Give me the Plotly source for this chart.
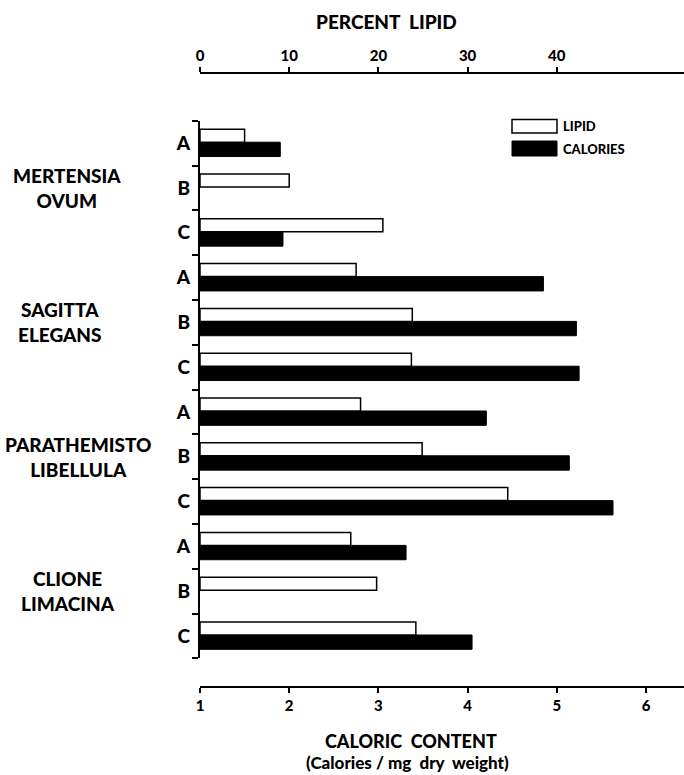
import plotly.graph_objects as go

species = ["MERTENSIA<br>OVUM", "SAGITTA<br>ELEGANS", "PARATHEMISTO<br>LIBELLULA", "CLIONE<br>LIMACINA"]
samples = ["A", "B", "C"]
row_labels = [s for _ in species for s in samples]
lipid_pct = [5.0, 10.0, 20.5, 17.5, 23.8, 23.7, 18.0, 24.9, 34.5, 16.9, 19.8, 24.2]
calories = [1.90, None, 1.93, 4.85, 5.22, 5.25, 4.21, 5.14, 5.63, 3.31, None, 4.05]
lipid_ticks = [0, 10, 20, 30, 40]
cal_ticks = [1, 2, 3, 4, 5, 6]

rows = list(range(len(row_labels)))
FONT = "Lato"
W, H = 684, 775
L, R, T, B = 200, 0, 73, 775 - 687
plot_h = H - T - B

def py(px):
    return (H - B - px) / plot_h

def px_x(px):
    return (px - L) / (W - L - R)

fig = go.Figure()
fig.add_trace(go.Bar(
    y=rows, x=lipid_pct, orientation="h", xaxis="x2", yaxis="y",
    offset=-0.31, width=0.29,
    marker=dict(color="white", line=dict(color="black", width=1.5)),
    name="LIPID", showlegend=False,
))
fig.add_trace(go.Bar(
    y=rows, x=calories, orientation="h", xaxis="x", yaxis="y",
    offset=-0.02, width=0.32,
    marker=dict(color="black", line=dict(color="black", width=1)),
    name="CALORIES", showlegend=False,
))
fig.add_trace(go.Scatter(x=[None], y=[None], xaxis="x", yaxis="y2", showlegend=False, hoverinfo="skip"))

ydom = [py(658.3), py(120.7)]
n = len(rows)
cal_range = [1, 1 + (W - L - R) / 89.2]
lip_range = [0, (W - L - R) / 8.92]
tickfont = dict(family=FONT, size=15, weight=900)
fig.update_layout(
    width=W, height=H,
    margin=dict(l=L, r=R, t=T, b=B),
    paper_bgcolor="white", plot_bgcolor="white",
    barmode="overlay",
    font=dict(family=FONT, color="black"),
    xaxis=dict(
        range=cal_range, anchor="free", position=0,
        tickvals=cal_ticks, ticks="outside", ticklen=5, tickwidth=1.5, tickcolor="black",
        showline=True, linecolor="black", linewidth=1.5,
        showgrid=False, zeroline=False, tickfont=tickfont,
    ),
    xaxis2=dict(
        range=lip_range, overlaying="x", side="top", anchor="free", position=1,
        tickvals=lipid_ticks, ticks="outside", ticklen=5, tickwidth=1.5, tickcolor="black",
        showline=True, linecolor="black", linewidth=1.5,
        showgrid=False, zeroline=False, tickfont=tickfont,
    ),
    yaxis=dict(
        domain=ydom, range=[n - 0.5, -0.5],
        tickvals=[i - 0.5 for i in range(n + 1)], ticktext=[""] * (n + 1),
        ticks="outside", ticklen=6, tickwidth=1.5, tickcolor="black",
        showline=True, linecolor="black", linewidth=1.5,
        showgrid=False, zeroline=False,
    ),
    yaxis2=dict(
        overlaying="y", range=[n - 0.5, -0.5], side="left", anchor="x",
        tickvals=rows, ticktext=row_labels, ticks="", showline=False,
        showgrid=False, zeroline=False, ticklabelstandoff=9,
        tickfont=dict(family=FONT, size=19, weight=900),
    ),
)

ann = []
centers_x = [67, 60, 78, 68]
for g, name in enumerate(species):
    ann.append(dict(
        text=name, x=px_x(centers_x[g]), xref="paper", y=3 * g + 1, yref="y",
        showarrow=False, xanchor="center", yanchor="middle", align="center",
        font=dict(family=FONT, size=19, weight=900),
    ))
ann.append(dict(text="PERCENT  LIPID", x=px_x(386), xref="paper", y=py(22), yref="paper",
                showarrow=False, xanchor="center", yanchor="middle",
                font=dict(family=FONT, size=19, weight=900)))
ann.append(dict(text="CALORIC  CONTENT", x=px_x(411), xref="paper", y=py(741), yref="paper",
                showarrow=False, xanchor="center", yanchor="middle",
                font=dict(family=FONT, size=18, weight=900)))
ann.append(dict(text="(Calories / mg  dry  weight)", x=px_x(407), xref="paper", y=py(762), yref="paper",
                showarrow=False, xanchor="center", yanchor="middle",
                font=dict(family=FONT, size=17, weight=900)))
ann.append(dict(text="LIPID", x=px_x(561), xref="paper", y=py(126), yref="paper",
                showarrow=False, xanchor="left", yanchor="middle",
                font=dict(family=FONT, size=13, weight=900)))
ann.append(dict(text="CALORIES", x=px_x(561), xref="paper", y=py(148.5), yref="paper",
                showarrow=False, xanchor="left", yanchor="middle",
                font=dict(family=FONT, size=13, weight=900)))
shapes = [
    dict(type="rect", xref="paper", yref="paper", x0=px_x(512), x1=px_x(557), y0=py(133), y1=py(119.5),
         fillcolor="white", line=dict(color="black", width=1.5)),
    dict(type="rect", xref="paper", yref="paper", x0=px_x(512), x1=px_x(557), y0=py(156), y1=py(141),
         fillcolor="black", line=dict(color="black", width=1)),
]
fig.update_layout(annotations=ann, shapes=shapes)
fig.write_html(
    "out.html",
    config={"displayModeBar": False},
    post_script="document.body.style.margin='0';document.body.style.overflow='hidden';",
)
